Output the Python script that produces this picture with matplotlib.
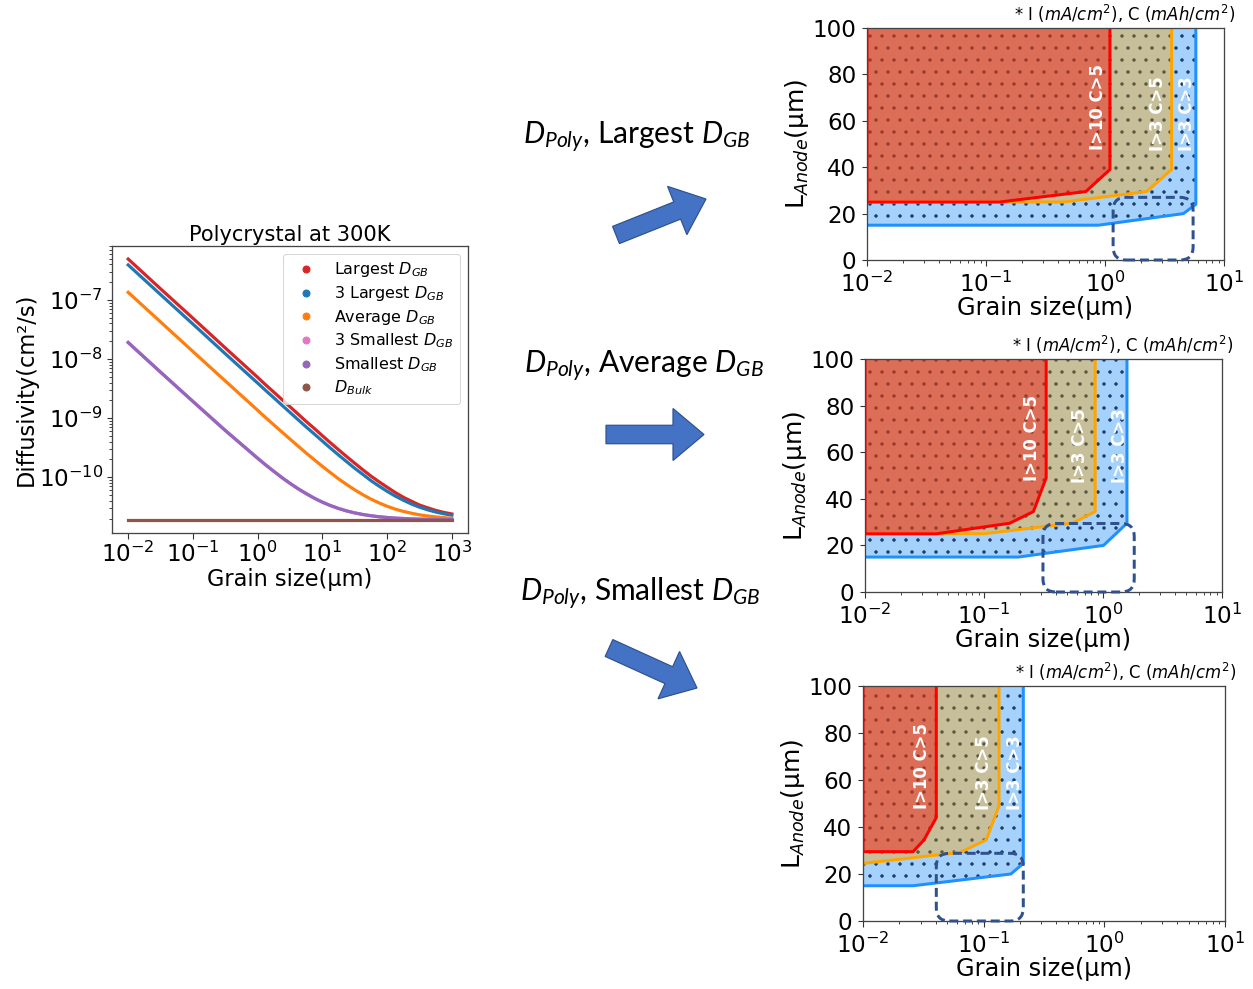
import matplotlib
matplotlib.use('Agg')
import matplotlib.pyplot as plt
import matplotlib.patches as mpatches
import matplotlib.transforms as mtransforms
from matplotlib.lines import Line2D

# ---------------- data: left panel (diffusivity vs grain size, 300K) ----------------
grain = [0.01, 0.0316, 0.1, 0.316, 1, 1.33, 1.78, 2.37, 3.16, 4.22, 5.62, 7.5, 10,
         13.3, 17.8, 23.7, 31.6, 42.2, 56.2, 75, 100, 133, 178, 237, 316, 422, 562, 750, 1000]
d_largest = [4.9e-7, 1.54e-7, 4.9e-8, 1.54e-8, 4.9e-9, 3.66e-9, 2.75e-9, 2.07e-9, 1.56e-9,
             1.17e-9, 8.8e-10, 6.7e-10, 5.05e-10, 3.84e-10, 2.92e-10, 2.24e-10, 1.73e-10,
             1.34e-10, 1.05e-10, 8.4e-11, 6.8e-11, 5.55e-11, 4.6e-11, 3.95e-11, 3.4e-11,
             3.05e-11, 2.76e-11, 2.55e-11, 2.4e-11]
d_3largest = [3.9e-7, 1.23e-7, 3.9e-8, 1.23e-8, 3.92e-9, 2.94e-9, 2.21e-9, 1.66e-9, 1.25e-9,
              9.4e-10, 7.1e-10, 5.4e-10, 4.1e-10, 3.12e-10, 2.38e-10, 1.84e-10, 1.42e-10,
              1.12e-10, 8.8e-11, 7.1e-11, 5.8e-11, 4.83e-11, 4.1e-11, 3.54e-11, 3.13e-11,
              2.82e-11, 2.59e-11, 2.42e-11, 2.29e-11]
d_average = [1.34e-7, 4.24e-8, 1.34e-8, 4.26e-9, 1.36e-9, 1.02e-9, 7.7e-10, 5.84e-10, 4.43e-10,
             3.37e-10, 2.57e-10, 1.98e-10, 1.53e-10, 1.2e-10, 9.4e-11, 7.55e-11, 6.14e-11,
             5.08e-11, 4.28e-11, 3.69e-11, 3.24e-11, 2.9e-11, 2.65e-11, 2.47e-11, 2.32e-11,
             2.22e-11, 2.14e-11, 2.08e-11, 2.03e-11]
d_3smallest = [1.9e-8, 6.0e-9, 1.92e-9, 6.2e-10, 2.1e-10, 1.62e-10, 1.26e-10, 9.9e-11, 7.9e-11,
               6.4e-11, 5.3e-11, 4.43e-11, 3.8e-11, 3.33e-11, 2.97e-11, 2.7e-11, 2.5e-11,
               2.35e-11, 2.24e-11, 2.15e-11, 2.09e-11, 2.04e-11, 2.01e-11, 1.98e-11, 1.96e-11,
               1.95e-11, 1.93e-11, 1.93e-11, 1.92e-11]
d_smallest = [1.9e-8, 6.0e-9, 1.92e-9, 6.2e-10, 2.1e-10, 1.62e-10, 1.26e-10, 9.9e-11, 7.9e-11,
              6.4e-11, 5.3e-11, 4.43e-11, 3.8e-11, 3.33e-11, 2.97e-11, 2.7e-11, 2.5e-11,
              2.35e-11, 2.24e-11, 2.15e-11, 2.09e-11, 2.04e-11, 2.01e-11, 1.98e-11, 1.96e-11,
              1.95e-11, 1.93e-11, 1.93e-11, 1.92e-11]
d_bulk = [1.9e-11] * len(grain)
series_labels = [r'Largest $D_{GB}$', r'3 Largest $D_{GB}$', r'Average $D_{GB}$',
                 r'3 Smallest $D_{GB}$', r'Smallest $D_{GB}$', r'$D_{Bulk}$']
left_xticks = [1e-2, 1e-1, 1e0, 1e1, 1e2, 1e3]

# ---------------- data: right panels (region boundaries, grain size um vs L_anode um) ----------------
# each boundary runs from the left edge along the bottom and then up the right side
top_blue_x = [0.01, 0.88, 4.56, 5.8, 5.8]
top_blue_y = [15, 15, 20, 24, 100]
top_orange_x = [0.01, 0.45, 2.24, 3.63, 3.63]
top_orange_y = [25, 25, 29.5, 39, 100]
top_red_x = [0.01, 0.13, 0.69, 1.10, 1.10]
top_red_y = [25, 25, 29.5, 39, 100]
top_box_x = [1.17, 5.5]
top_box_y = [0, 27]

mid_blue_x = [0.01, 0.195, 1.01, 1.59, 1.59]
mid_blue_y = [15, 15, 20, 29.5, 100]
mid_orange_x = [0.01, 0.10, 0.55, 0.86, 0.86]
mid_orange_y = [25, 25, 29.5, 34.5, 100]
mid_red_x = [0.01, 0.04, 0.164, 0.26, 0.333, 0.333]
mid_red_y = [25, 25, 29.5, 34.5, 49, 100]
mid_box_x = [0.313, 1.83]
mid_box_y = [0, 29.4]

bot_blue_x = [0.01, 0.026, 0.168, 0.213, 0.213]
bot_blue_y = [15, 15, 20, 24.5, 100]
bot_orange_x = [0.01, 0.064, 0.105, 0.134, 0.134]
bot_orange_y = [24.5, 29.2, 34.5, 49, 100]
bot_red_x = [0.01, 0.026, 0.032, 0.0405, 0.0405]
bot_red_y = [29.5, 29.5, 34.5, 44, 100]
bot_box_x = [0.0405, 0.213]
bot_box_y = [0, 28.8]

region_labels = ['I>10 C>5', 'I>3 C>5', 'I>3 C>3']
case_titles = [r'$D_{Poly}$, Largest $D_{GB}$', r'$D_{Poly}$, Average $D_{GB}$',
               r'$D_{Poly}$, Smallest $D_{GB}$']

# ---------------- figure ----------------
W, H = 1253, 989
plt.rcParams['mathtext.rm'] = 'Lato'
plt.rcParams['mathtext.it'] = 'Lato:italic'
plt.rcParams['mathtext.bf'] = 'Lato:bold'
fig = plt.figure(figsize=(W / 72, H / 72), dpi=72)
px = mtransforms.IdentityTransform()


def box(left, top, right, bottom):
    # pixel box (from top-left) -> figure fraction rect
    return [left / W, 1 - bottom / H, (right - left) / W, (bottom - top) / H]


def style_spines(ax):
    for s in ax.spines.values():
        s.set_color('#444444')
        s.set_linewidth(1.3)
    ax.tick_params(which='major', length=5.5, width=1.1, labelsize=23, color='#333333')
    ax.tick_params(which='minor', length=3, width=0.9, color='#333333')


# left panel
ax = fig.add_axes(box(112, 246, 468, 533))
ax.set_xscale('log')
ax.set_yscale('log')
colors = ['tab:red', 'tab:blue', 'tab:orange', 'tab:pink', 'tab:purple', 'tab:brown']
for ys, c in zip([d_largest, d_3largest, d_average, d_3smallest, d_smallest, d_bulk], colors):
    ax.plot(grain, ys, color=c, lw=3.2)
ax.set_xticks(left_xticks)
handles = [Line2D([], [], marker='o', ls='', color=c, ms=7) for c in colors]
ax.legend(handles, series_labels, loc='upper right', fontsize=16, labelspacing=0.3)
ax.set_title('Polycrystal at 300K', fontsize=21, pad=5)
style_spines(ax)
ax.set_xlabel('Grain size(μm)', fontsize=22.5, labelpad=1)
ax.set_ylabel('Diffusivity(cm²/s)', fontsize=22.5, labelpad=1)

# right panels
panels = [
    (box(867, 28, 1224, 260), (top_blue_x, top_blue_y), (top_orange_x, top_orange_y),
     (top_red_x, top_red_y), (top_box_x, top_box_y), [(0.87, 66), (2.8, 63), (4.86, 63)]),
    (box(865, 359, 1222, 592), (mid_blue_x, mid_blue_y), (mid_orange_x, mid_orange_y),
     (mid_red_x, mid_red_y), (mid_box_x, mid_box_y), [(0.252, 66), (0.64, 63), (1.40, 63)]),
    (box(863, 686, 1225, 921), (bot_blue_x, bot_blue_y), (bot_orange_x, bot_orange_y),
     (bot_red_x, bot_red_y), (bot_box_x, bot_box_y), [(0.0308, 66), (0.1, 63), (0.182, 63)]),
]
fills = [('#A5D1FD', '#1B3A63', 'dodgerblue'),
         ('#C7BF99', '#5B5640', 'orange'),
         ('#DC6E57', '#9A3A2A', 'red')]

for rect, blue, orange, red, rbox, lab_pos in panels:
    axr = fig.add_axes(rect)
    axr.set_xscale('log')
    axr.set_xlim(0.01, 10)
    axr.set_ylim(0, 100)
    axr.set_yticks([0, 20, 40, 60, 80, 100])
    for (bx, by), (fc, hc, lc) in zip([blue, orange, red], fills):
        axr.fill(list(bx) + [0.01], list(by) + [100], facecolor=fc, edgecolor=hc,
                 linewidth=0, hatch='.', zorder=1)
        if lc == 'red':
            axr.plot([0.01] + list(bx), [100] + list(by), color=lc, lw=3, zorder=2)
        else:
            axr.plot(bx, by, color=lc, lw=3, zorder=2)
    for (lx, ly), txt in zip(lab_pos, region_labels):
        axr.text(lx, ly, txt, color='white', fontsize=16.5, fontweight='bold', rotation=90,
                 ha='center', va='center', zorder=3)
    axr.text(1.032, 1.012, r'* I ($mA/cm^2$), C ($mAh/cm^2$)', transform=axr.transAxes,
             ha='right', va='bottom', fontsize=16.5)
    style_spines(axr)
    axr.tick_params(axis='x', which='major', pad=6.5)
    axr.tick_params(axis='y', which='major', pad=5)
    axr.set_xlabel('Grain size(μm)', fontsize=24, labelpad=-1)
    axr.set_ylabel(r'L$_{Anode}$(μm)', fontsize=25, labelpad=2)
    # dashed rounded box (drawn in pixels so the corners stay round on the log axis)
    (x0, y0), (x1, y1) = axr.transData.transform([(rbox[0][0], rbox[1][0]), (rbox[0][1], rbox[1][1])])
    fig.add_artist(mpatches.FancyBboxPatch((x0, y0), x1 - x0, y1 - y0,
                                           boxstyle='round,pad=0,rounding_size=13',
                                           fill=False, ec='#2F528F', lw=3, ls=(0, (3, 1.6)),
                                           transform=px, zorder=5))

# arrows and case titles in the middle
arrow_kw = dict(width=18.5, head_width=52, head_length=31, length_includes_head=True,
                fc='#4472C4', ec='#2F528F', lw=1.2, transform=px)
fig.add_artist(mpatches.FancyArrow(616, H - 235, 90, 36, **arrow_kw))
fig.add_artist(mpatches.FancyArrow(606, H - 434.5, 98, 0, **arrow_kw))
fig.add_artist(mpatches.FancyArrow(609, H - 648, 88, -40, **arrow_kw))
for (cx, cy), t in zip([(637, 137), (644, 366), (640, 594)], case_titles):
    fig.text(cx / W, 1 - cy / H, t, ha='center', va='center', fontsize=30,
             family='Lato', math_fontfamily='custom')

fig.savefig('out.png', dpi=72)
